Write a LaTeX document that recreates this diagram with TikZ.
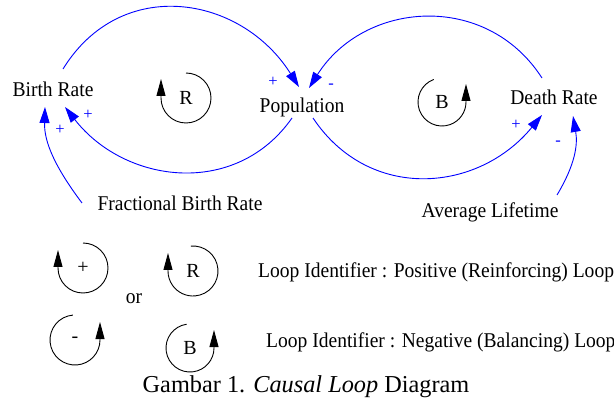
\documentclass[tikz,border=0pt]{standalone}
\usepackage{fontspec}
\usepackage{graphicx}
\setmainfont{Liberation Serif}
\usetikzlibrary{arrows.meta}
\newcommand{\narrowtxt}[1]{\scalebox{0.93}[1]{#1}}
\begin{document}
\begin{tikzpicture}[x=1pt,y=-1pt,
  lbl/.style={font=\fontsize{21}{24}\selectfont, inner sep=0pt, anchor=base},
  capt/.style={font=\fontsize{24.3}{27}\selectfont, inner sep=0pt, anchor=base},
  pol/.style={font=\fontsize{16.5}{18}\selectfont, text=blue, inner sep=0pt},
  link/.style={draw=blue, line width=0.9pt, -{Triangle[length=16pt,width=10pt]}},
  idarc/.style={draw=black, line width=0.9pt, -{Triangle[length=17pt,width=9pt]}},
  idtxt/.style={font=\fontsize{20}{22}\selectfont, inner sep=0pt},
]
\useasboundingbox (0,0) rectangle (614,401);
% variables
\node[lbl] (br) at (53,97) {\narrowtxt{Birth Rate}};
\node[lbl] (pop) at (302,113) {\narrowtxt{Population}};
\node[lbl] (dr) at (554,105) {\narrowtxt{Death Rate}};
\node[lbl] (fbr) at (180,211) {\narrowtxt{Fractional Birth Rate}};
\node[lbl] (al) at (490,218) {\narrowtxt{Average Lifetime}};
% links
\draw[link] ([shift={(10,-28)}]br.base) .. controls (121,-25) and (241,-5) .. ([shift={(-3,-26)}]pop.base);
\draw[link] ([shift={(-10,5)}]pop.base) .. controls (236,198) and (125,184) .. ([shift={(12,10)}]br.base);
\draw[link] ([shift={(-98,-8)}]fbr.base) .. controls (55,167) and (44,142) .. ([shift={(-8,10)}]br.base);
\draw[link] ([shift={(-12,-27)}]dr.base) .. controls (486,-9) and (364,1) .. ([shift={(7,-25)}]pop.base);
\draw[link] ([shift={(11,5)}]pop.base) .. controls (369,202) and (478,193) .. ([shift={(-12,10)}]dr.base);
\draw[link] ([shift={(67,-23)}]al.base) .. controls (575,165) and (578,145) .. ([shift={(19,11)}]dr.base);
% polarities
\node[pol] (p1) at (273,82) {+};
\node[pol] (p2) at (331,86) {-};
\node[pol] (p3) at (88,115) {+};
\node[pol] (p4) at (60,130) {+};
\node[pol] (p5) at (516,125) {+};
\node[pol] (p6) at (558,143) {-};
% loop identifiers in the diagram
\coordinate (cR) at (186,98);
\draw[idarc] (cR) ++(-90:25) arc[start angle=-90,end angle=180,radius=25] -- ++(0,-19);
\node[idtxt] (tR) at (cR) {R};
\coordinate (cB) at (442,102);
\draw[idarc] (cB) ++(-110:24) arc[start angle=-110,end angle=-360,radius=24] -- ++(0,-18);
\node[idtxt] (tB) at (cB) {B};
% legend
\coordinate (lp) at (83,268);
\draw[idarc] (lp) ++(-90:25) arc[start angle=-90,end angle=180,radius=25] -- ++(0,-18);
\node[idtxt] (tlp) at (lp) {+};
\coordinate (lr) at (193,271);
\draw[idarc] (lr) ++(-95:25) arc[start angle=-95,end angle=180,radius=25] -- ++(0,-18);
\node[idtxt] (tlr) at (lr) {R};
\coordinate (lm) at (75,340);
\draw[idarc] (lm) ++(-95:25) arc[start angle=-95,end angle=-360,radius=25] -- ++(0,-18);
\node[idtxt] (tlm) at (lm) {-};
\coordinate (lb) at (190,348);
\draw[idarc] (lb) ++(-98:24) arc[start angle=-98,end angle=-360,radius=24] -- ++(0,-18);
\node[idtxt] (tlb) at (lb) {B};
\node[lbl] (or) at (134,303) {\narrowtxt{or}};
\node[lbl, anchor=base west] (pos) at (258,278) {\narrowtxt{Loop Identifier : Positive (Reinforcing) Loop}};
\node[lbl, anchor=base west] (neg) at (266,348) {\narrowtxt{Loop Identifier : Negative (Balancing) Loop}};
\node[capt] (cap) at (306,392) {Gambar 1. \textit{Causal Loop} Diagram};
\end{tikzpicture}
\end{document}
